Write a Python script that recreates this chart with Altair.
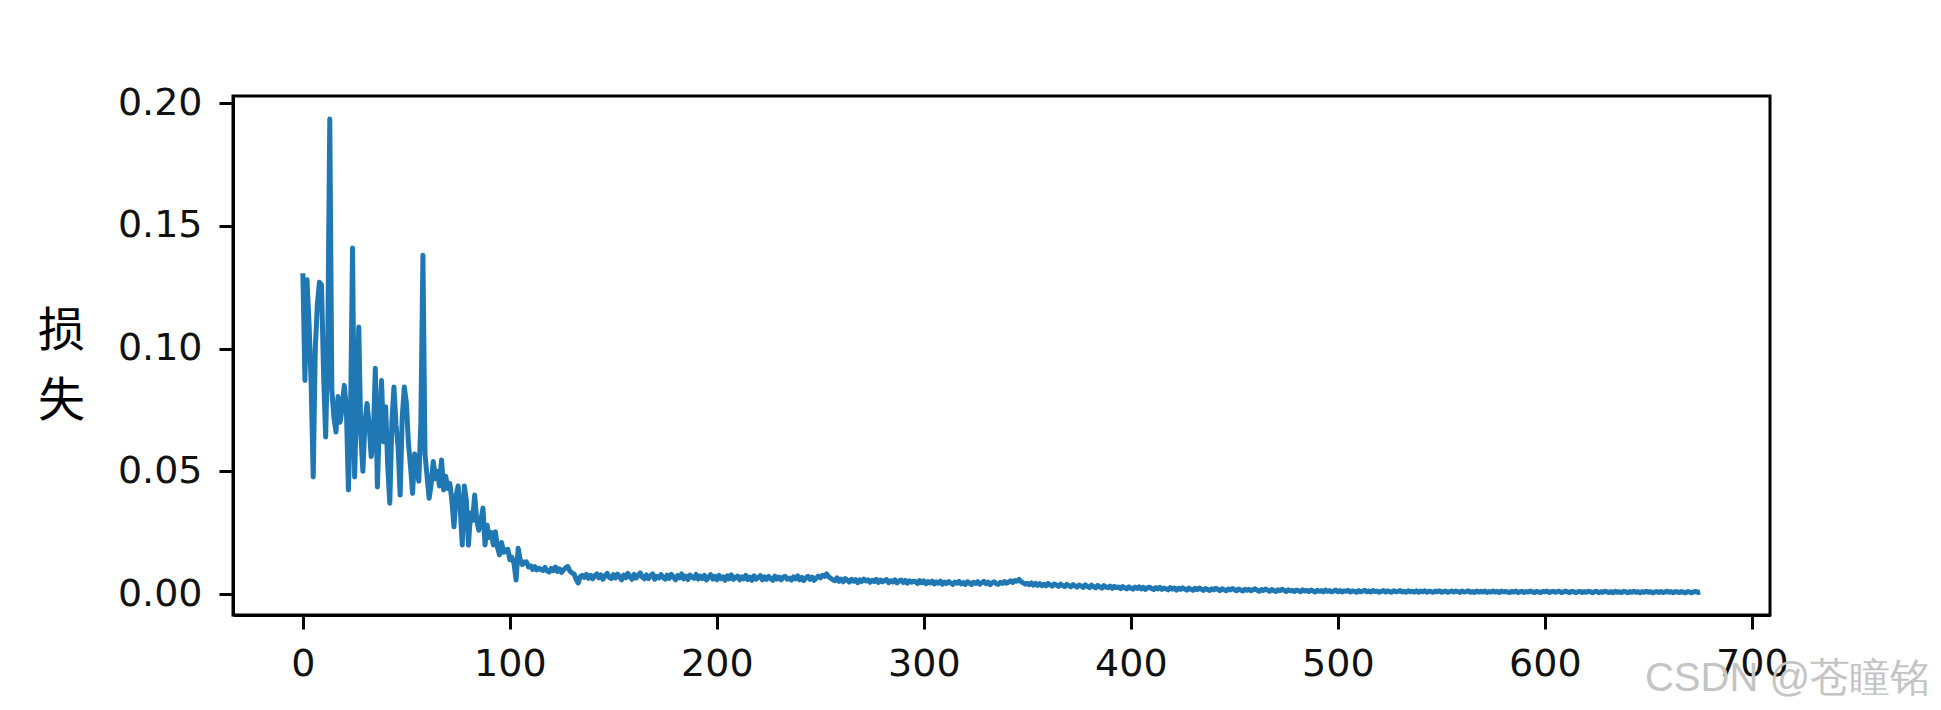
import altair as alt
import pandas as pd

# Loss per step, in units of 1e-4
LOSS_HEAD_E4 = [
    1307, 870, 1280, 1100, 860, 477, 1000, 1180, 1270, 1260,
    900, 640, 1000, 1935, 830, 720, 660, 805, 700, 760,
    850, 760, 424, 700, 1410, 477, 800, 1088, 650, 500,
    700, 776, 690, 560, 627, 920, 436, 700, 870, 620,
    763, 520, 370, 700, 843, 690, 600, 403, 720, 843,
    780, 615, 520, 410, 570, 520, 460, 700, 1380, 570,
    480, 390, 450, 540, 470, 500, 440, 546, 424, 480,
    430, 450, 380, 274, 400, 440, 350, 200, 440, 380,
    199, 330, 300, 403, 300, 260, 300, 350, 200, 280,
    230, 250, 200, 254, 190, 160, 210, 170, 180, 182,
    140, 150, 125, 57, 186, 140, 120, 130, 131, 110,
    115, 100, 112, 98, 105, 100,
]
LOSS_TAIL_E4 = [
    96, 108, 94, 90, 104, 95, 110, 92, 102, 88, 99, 107, 112, 94, 86, 82, 60, 45, 70, 76,
    68, 80, 64, 76, 62, 74, 82, 66, 78, 60, 75, 84, 68, 63, 79, 66, 81, 70, 58, 77,
    66, 84, 72, 60, 80, 65, 76, 86, 68, 62, 78, 63, 74, 82, 60, 72, 66, 79, 68, 61,
    77, 64, 80, 69, 58, 75, 66, 82, 62, 73, 59, 77, 68, 64, 80, 61, 73, 63, 76, 57,
    68, 79, 61, 72, 58, 76, 63, 70, 56, 74, 62, 78, 60, 67, 73, 58, 70, 62, 76, 59,
    69, 56, 74, 61, 67, 75, 58, 70, 60, 72, 63, 56, 73, 61, 69, 58, 68, 72, 60, 65,
    57, 70, 62, 74, 58, 68, 55, 66, 72, 60, 69, 56, 65, 73, 66, 76, 72, 82, 70, 64,
    58, 54, 66, 52, 61, 50, 63, 56, 49, 60, 52, 59, 46, 58, 51, 61, 53, 58, 48, 56,
    51, 60, 47, 57, 50, 55, 59, 46, 54, 49, 58, 45, 53, 57, 47, 55, 44, 54, 48, 52,
    50, 43, 55, 46, 53, 42, 51, 45, 52, 41, 50, 44, 52, 40, 49, 43, 51, 45, 39, 49,
    44, 51, 41, 47, 39, 50, 45, 38, 48, 43, 50, 40, 46, 52, 42, 48, 38, 46, 50, 42,
    40, 48, 43, 51, 44, 49, 54, 47, 55, 52, 60, 50, 45, 40, 44, 38, 45, 36, 43, 35,
    42, 34, 40, 33, 43, 37, 32, 41, 36, 31, 40, 35, 30, 39, 34, 29, 38, 33, 28, 37,
    33, 27, 37, 31, 26, 36, 30, 25, 35, 29, 24, 34, 28, 26, 32, 23, 31, 26, 29, 22,
    30, 25, 21, 29, 24, 20, 28, 23, 29, 21, 27, 19, 25, 28, 22, 18, 26, 21, 27, 19,
    24, 21, 17, 26, 20, 24, 16, 23, 19, 25, 20, 16, 24, 19, 15, 23, 18, 24, 20, 15,
    22, 18, 14, 21, 17, 23, 19, 14, 21, 17, 13, 20, 16, 22, 18, 13, 20, 16, 12, 19,
    15, 19, 13, 17, 21, 15, 11, 18, 14, 20, 16, 11, 18, 14, 10, 17, 13, 19, 15, 10,
    17, 13, 15, 10, 16, 14, 9, 17, 12, 15, 10, 16, 13, 8, 15, 11, 14, 9, 16, 11,
    14, 9, 12, 16, 9, 14, 8, 13, 11, 15, 8, 13, 11, 7, 14, 9, 12, 15, 9, 12,
    8, 14, 10, 12, 7, 11, 14, 8, 13, 10, 7, 13, 9, 11, 14, 8, 11, 7, 13, 9,
    11, 8, 13, 7, 12, 9, 13, 7, 11, 10, 7, 12, 9, 13, 7, 10, 12, 7, 10, 12,
    8, 12, 10, 6, 12, 8, 10, 13, 7, 10, 6, 12, 8, 11, 8, 12, 6, 10, 8, 12,
    8, 11, 6, 12, 9, 10, 8, 6, 11, 8, 12, 6, 9, 11, 6, 10, 8, 12, 9, 6,
    11, 8, 6, 11, 9, 12, 6, 9, 11, 7, 10, 11, 6, 9, 12, 8, 6, 11, 9, 6,
    9, 11, 6, 10, 7, 11, 9, 5, 10, 11, 6, 9, 7, 11, 9, 6, 10, 5, 11, 7,
    9, 6, 11, 9, 5, 10, 7, 11, 7, 9, 5, 10, 7, 11, 7, 9, 5, 8, 10, 6,
    10, 6, 8, 11, 7, 9, 5, 10, 8, 6, 10, 7, 5, 10, 8, 5, 9, 10, 6, 8,
]

X_TICKS = [0, 100, 200, 300, 400, 500, 600, 700]
Y_TICKS = [0.0, 0.05, 0.10, 0.15, 0.20]
Y_TITLE = ["损", "失"]
WATERMARK = ["CSDN @苍瞳铭"]

loss = [v / 10000 for v in LOSS_HEAD_E4 + LOSS_TAIL_E4]
df = pd.DataFrame({"step": list(range(len(loss))), "loss": loss})

line = alt.Chart(df).mark_line(
    color="#1f77b4", strokeWidth=5, strokeJoin="round"
).encode(
    x=alt.X(
        "step:Q",
        scale=alt.Scale(domain=[-33.75, 708.75], nice=False, zero=False),
        axis=alt.Axis(values=X_TICKS, title=None, labelPadding=16, format="d"),
    ),
    y=alt.Y(
        "loss:Q",
        scale=alt.Scale(domain=[-0.00855, 0.2029], nice=False, zero=False),
        axis=alt.Axis(
            values=Y_TICKS,
            format=".2f",
            title=Y_TITLE,
            titleAngle=0,
            titleAlign="center",
            titleBaseline="top",
            titleX=-172,
            titleY=212,
            titleFont="Noto Sans CJK SC",
            titleFontSize=47,
            titleFontWeight="normal",
            titleColor="#000000",
            titleLineHeight=70,
            labelPadding=17,
        ),
    ),
)

mark = alt.Chart(pd.DataFrame({"t": WATERMARK})).mark_text(
    font="Liberation Sans",
    fontSize=40,
    color="#c4c4c4",
    align="right",
    baseline="alphabetic",
).encode(text="t:N", x=alt.value(1697), y=alt.value(595))

chart = (
    alt.layer(line, mark)
    .properties(
        width=1537,
        height=519,
        autosize=alt.AutoSizeParams(type="none"),
        padding={"left": 225, "top": 88, "right": 163, "bottom": 87},
        background="white",
    )
    .configure_view(stroke="#000000", strokeWidth=3)
    .configure_axis(
        grid=False,
        domainColor="#000000",
        domainWidth=3,
        tickColor="#000000",
        tickWidth=3,
        tickSize=14,
        labelFont="DejaVu Sans",
        labelFontSize=38,
        labelColor="#111111",
    )
)

chart.save("out.html", embed_options={"renderer": "svg", "actions": False})
